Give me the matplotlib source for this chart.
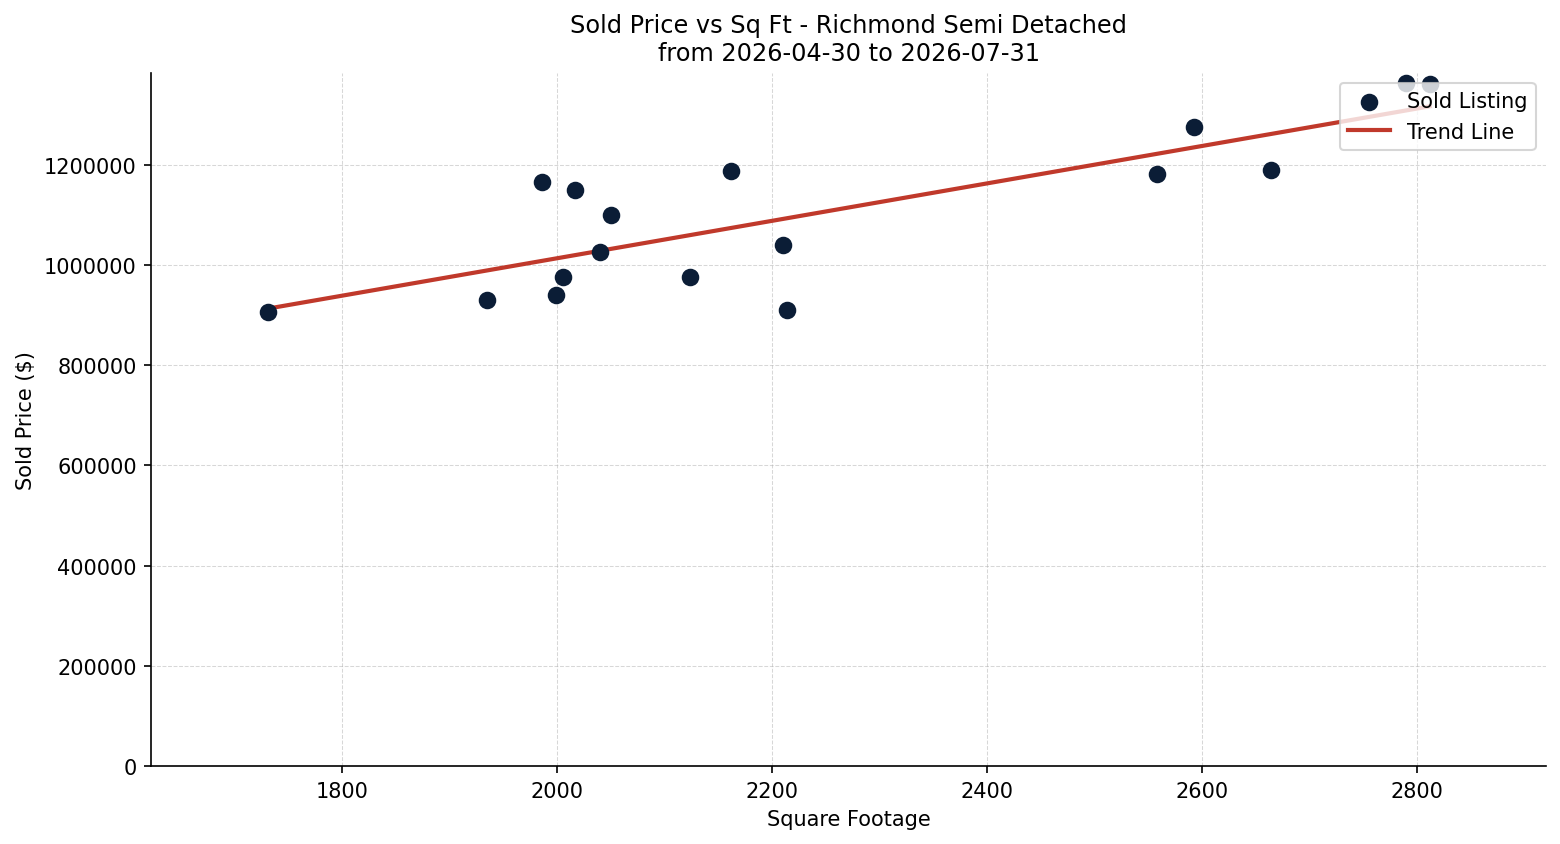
import numpy as np
import matplotlib.pyplot as plt

sqft = [1731, 1935, 1986, 1999, 2006, 2017, 2040, 2050, 2124, 2162,
        2210, 2214, 2558, 2593, 2664, 2790, 2812]
price = [906000, 930000, 1166000, 940000, 976000, 1150000, 1026000, 1100000,
         976000, 1188000, 1040000, 910000, 1182000, 1276000, 1190000,
         1362000, 1360000]

x = np.array(sqft)
y = np.array(price)
slope, intercept = np.polyfit(x, y, 1)
xs = np.array([x.min(), x.max()])

fig, ax = plt.subplots(figsize=(10.4, 5.633), dpi=150)
ax.scatter(x, y, s=55, color="#0b1d36", label="Sold Listing", zorder=3)
ax.plot(xs, slope * xs + intercept, color="#c0392b", linewidth=2,
        label="Trend Line", zorder=2)

pad = (x.max() - x.min()) * 0.1
ax.set_xlim(x.min() - pad, x.max() + pad)
ax.set_ylim(0, y.max() * 1.016)
ax.ticklabel_format(style="plain", axis="y")
ax.grid(True, linestyle="--", linewidth=0.5, alpha=0.5)
ax.spines["top"].set_visible(False)
ax.spines["right"].set_visible(False)
ax.set_xlabel("Square Footage")
ax.set_ylabel("Sold Price ($)")
ax.set_title("Sold Price vs Sq Ft - Richmond Semi Detached\nfrom 2026-04-30 to 2026-07-31",
             fontsize=11.5)
ax.legend(loc="upper right")
fig.subplots_adjust(left=0.097, right=0.991, top=0.913, bottom=0.092)
fig.savefig("out.png", dpi=150)
